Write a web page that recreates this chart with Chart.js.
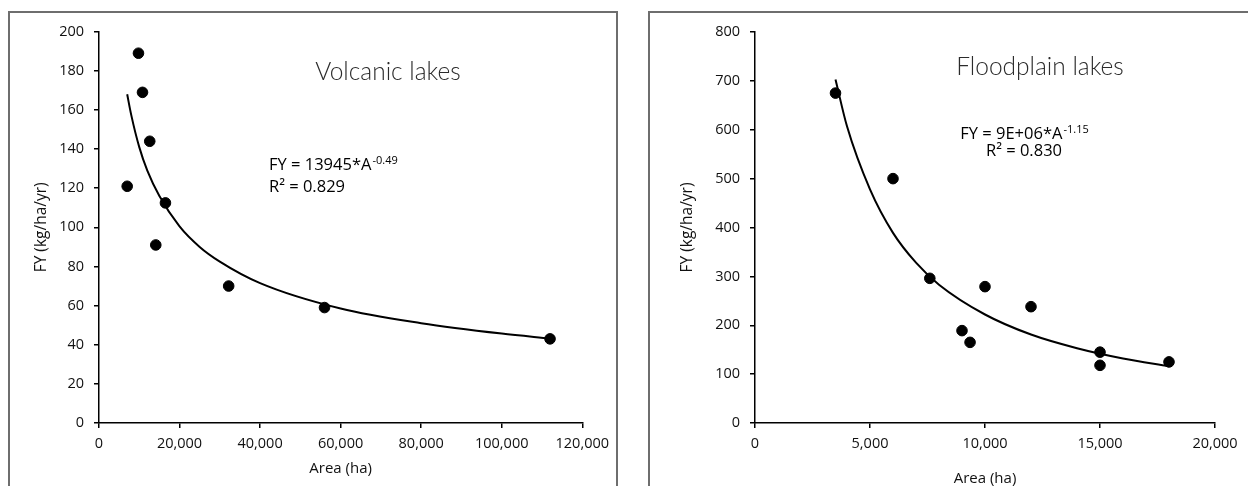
<!DOCTYPE html>
<html lang="en">
<head>
<meta charset="UTF-8">
<title>Fish yield vs lake area</title>
<script src="https://cdn.jsdelivr.net/npm/chart.js@4.4.1/dist/chart.umd.min.js"></script>
<style>
  html, body { margin: 0; padding: 0; background: #fff; overflow: hidden; }
  .panel { position: absolute; top: 11px; border: 2px solid #6e6e6e; background: #fff; }
  #leftPanel { left: 8px; width: 606px; height: 480px; }
  #rightPanel { left: 648px; width: 616px; height: 480px; }
  canvas { display: block; }
</style>
</head>
<body>
<div class="panel" id="leftPanel"><canvas id="volcanicChart" width="606" height="480"></canvas></div>
<div class="panel" id="rightPanel"><canvas id="floodplainChart" width="616" height="480"></canvas></div>
<script>
// volcanic lakes: observed points
const volcanicArea = [7000, 9800, 10800, 12600, 14100, 16500, 32200, 56000, 112000];
const volcanicFY = [121, 189, 169, 144, 91, 112.5, 70, 59, 43];
// volcanic lakes: power trend line
const volcanicTrendArea = [7000, 8000, 10000, 12000, 15000, 20000, 25000, 30000, 40000, 60000, 80000, 100000, 112000];
const volcanicTrendFY = [168, 157.5, 141, 129, 116, 100.5, 90, 82.5, 71.5, 58.5, 51, 45.7, 43.2];

// floodplain lakes: observed points
const floodArea = [3500, 6000, 7600, 9000, 9350, 10000, 12000, 15000, 15000, 18000];
const floodFY = [675, 500, 296, 189, 165, 279, 238, 145, 118, 125];
// floodplain lakes: power trend line
const floodTrendArea = [3500, 4000, 5000, 6000, 7000, 8000, 10000, 12000, 14000, 16000, 18000];
const floodTrendFY = [703, 607, 478, 389, 328, 283, 222, 181, 153, 132, 116];

const xTitle = "Area (ha)";
const yTitle = "FY (kg/ha/yr)";
const volcanicTitle = "Volcanic lakes";
const volcanicEq = "FY = 13945*A";
const volcanicExp = "-0.49";
const volcanicR2 = "R\u00b2 = 0.829";
const floodTitle = "Floodplain lakes";
const floodEq = "FY = 9E+06*A";
const floodExp = "-1.15";
const floodR2 = "R\u00b2 = 0.830";

Chart.defaults.font.family = "'Open Sans', sans-serif";
Chart.defaults.font.size = 14.5;
Chart.defaults.color = "#111";

function pts(xs, ys) {
    return xs.map(function (x, i) { return { x: x, y: ys[i] }; });
}

// titles + trend equations
const notesPlugin = {
    id: "notes",
    afterDraw(chart, args, o) {
        const ctx = chart.ctx;
        ctx.save();
        ctx.fillStyle = "#2b2b2b";
        ctx.textBaseline = "alphabetic";
        ctx.textAlign = "center";
        ctx.font = "300 24.5px Lato";
        ctx.fillText(o.title, o.titleX, o.titleY);

        ctx.textAlign = "left";
        ctx.fillStyle = "#000";
        ctx.font = "16.5px 'Open Sans'";
        const wEq = ctx.measureText(o.eq).width;
        ctx.font = "11px 'Open Sans'";
        const wExp = ctx.measureText(o.exp).width;
        let x = o.center ? o.eqX - (wEq + wExp) / 2 : o.eqX;
        ctx.font = "16.5px 'Open Sans'";
        ctx.fillText(o.eq, x, o.eqY);
        ctx.font = "11px 'Open Sans'";
        ctx.fillText(o.exp, x + wEq + 1, o.eqY - 6);
        ctx.font = "16.5px 'Open Sans'";
        const wR = ctx.measureText(o.r2).width;
        x = o.center ? o.eqX - wR / 2 : o.eqX;
        ctx.fillText(o.r2, x, o.r2Y);
        ctx.restore();
    }
};

function makeConfig(px, py, tx, ty, xMax, xStep, yMax, yStep, s) {
    const grid = { drawOnChartArea: false, drawTicks: true, tickLength: 5, color: "#000", lineWidth: 1.5 };
    const border = { display: true, color: "#000", width: 1.5 };
    return {
        type: "scatter",
        data: {
            datasets: [
                {
                    data: pts(px, py),
                    pointRadius: 5.3,
                    pointBackgroundColor: "#000",
                    pointBorderColor: "#000",
                    pointBorderWidth: 1
                },
                {
                    data: pts(tx, ty),
                    showLine: true,
                    pointRadius: 0,
                    borderColor: "#000",
                    borderWidth: 2,
                    cubicInterpolationMode: "monotone"
                }
            ]
        },
        options: {
            responsive: false,
            animation: false,
            locale: "en-US",
            layout: { padding: { left: 0, top: s.top, right: s.right, bottom: 0 } },
            plugins: { legend: { display: false }, tooltip: { enabled: false }, notes: s.notes },
            scales: {
                x: {
                    type: "linear", min: 0, max: xMax,
                    ticks: { stepSize: xStep, padding: 7, maxRotation: 0, autoSkip: false },
                    grid: grid, border: border,
                    title: { display: true, text: xTitle, font: { size: 15 }, padding: { top: 0, bottom: s.xTitlePad } },
                    afterFit(sc) { sc.height = 70; }
                },
                y: {
                    type: "linear", min: 0, max: yMax,
                    ticks: { stepSize: yStep, padding: 10 },
                    grid: grid, border: border,
                    title: { display: true, text: yTitle, font: { size: 15.5 }, padding: { top: s.yTitlePad, bottom: 0 } },
                    afterFit(sc) { sc.width = s.yWidth; }
                }
            }
        },
        plugins: [notesPlugin]
    };
}

new Chart(document.getElementById("volcanicChart"),
    makeConfig(volcanicArea, volcanicFY, volcanicTrendArea, volcanicTrendFY, 120000, 20000, 200, 20, {
        top: 18, right: 32, yWidth: 89, yTitlePad: 22, xTitlePad: 15,
        notes: { title: volcanicTitle, titleX: 378, titleY: 67, eq: volcanicEq, exp: volcanicExp, r2: volcanicR2,
                 eqX: 259, eqY: 157, r2Y: 179, center: false }
    }));

new Chart(document.getElementById("floodplainChart"),
    makeConfig(floodArea, floodFY, floodTrendArea, floodTrendFY, 20000, 5000, 800, 100, {
        top: 19, right: 51, yWidth: 105, yTitlePad: 28, xTitlePad: 5,
        notes: { title: floodTitle, titleX: 390, titleY: 62, eq: floodEq, exp: floodExp, r2: floodR2,
                 eqX: 374, eqY: 126, r2Y: 143, center: true }
    }));
</script>
</body>
</html>
